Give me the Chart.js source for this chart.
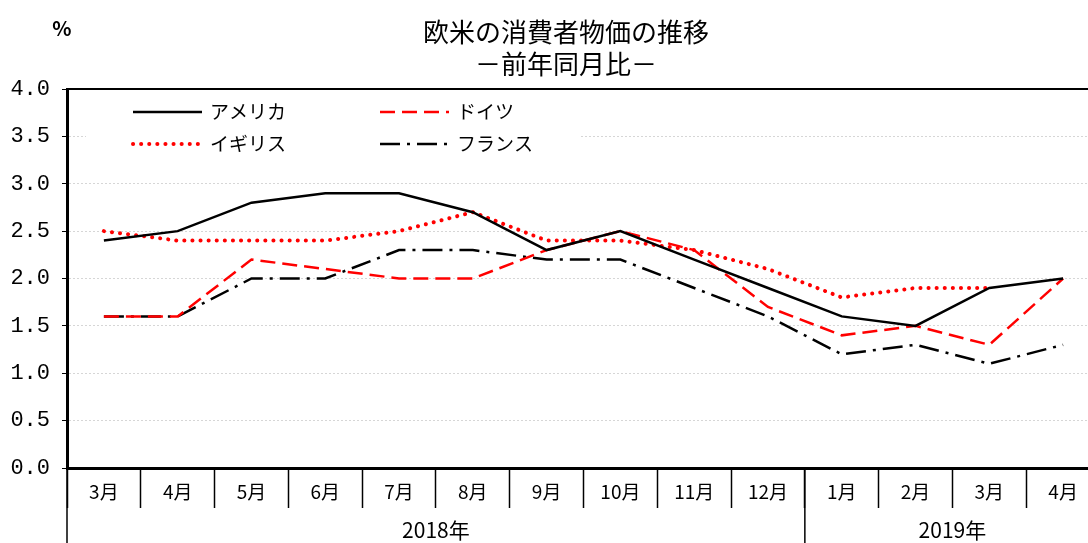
<!DOCTYPE html>
<html>
<head>
<meta charset="utf-8">
<script src="https://cdn.jsdelivr.net/npm/chart.js@4/dist/chart.umd.min.js"></script>
<style>
  body { margin: 0; overflow: hidden; background: #fff; }
</style>
</head>
<body>
<canvas id="grafica" width="1100" height="543"></canvas>
<script>
const meses = ['3月','4月','5月','6月','7月','8月','9月','10月','11月','12月','1月','2月','3月','4月'];
const anios = ['2018年', '2019年'];
const mesesPorAnio = [10, 4];
const ticksY = [0, 0.5, 1, 1.5, 2, 2.5, 3, 3.5, 4];

const america = [2.4, 2.5, 2.8, 2.9, 2.9, 2.7, 2.3, 2.5, 2.2, 1.9, 1.6, 1.5, 1.9, 2.0];
const alemania = [1.6, 1.6, 2.2, 2.1, 2.0, 2.0, 2.3, 2.5, 2.3, 1.7, 1.4, 1.5, 1.3, 2.0];
const inglaterra = [2.5, 2.4, 2.4, 2.4, 2.5, 2.7, 2.4, 2.4, 2.3, 2.1, 1.8, 1.9, 1.9, null];
const francia = [1.6, 1.6, 2.0, 2.0, 2.3, 2.3, 2.2, 2.2, 1.9, 1.6, 1.2, 1.3, 1.1, 1.3];

const fuente = '"Noto Sans CJK JP", "Noto Sans", sans-serif';

// titulo, leyenda y separadores de anio
const extras = {
  id: 'extras',
  beforeDatasetsDraw(chart) {
    const ctx = chart.ctx;
    ctx.save();
    ctx.fillStyle = '#fff';
    ctx.fillRect(86, 96, 494, 62);
    ctx.restore();
  },
  afterDraw(chart) {
    const ctx = chart.ctx;
    const area = chart.chartArea;
    const x = chart.scales.x;
    ctx.save();

    // borde superior
    ctx.strokeStyle = '#000';
    ctx.lineWidth = 2;
    ctx.beginPath();
    ctx.moveTo(area.left, area.top);
    ctx.lineTo(area.right, area.top);
    ctx.stroke();

    // titulo
    ctx.fillStyle = '#000';
    ctx.textAlign = 'center';
    ctx.textBaseline = 'middle';
    ctx.font = '26px ' + fuente;
    ctx.fillText('欧米の消費者物価の推移', 566, 32);
    ctx.fillText('－前年同月比－', 566, 64);
    ctx.font = 'bold 20px ' + fuente;
    ctx.fillText('%', 62, 28);

    // anios
    const paso = x.getPixelForValue(1) - x.getPixelForValue(0);
    let inicio = 0;
    ctx.lineWidth = 1.5;
    ctx.font = '21px ' + fuente;
    anios.forEach((anio, i) => {
      const fin = inicio + mesesPorAnio[i] - 1;
      const x1 = x.getPixelForValue(inicio) - paso / 2;
      const x2 = x.getPixelForValue(fin) + paso / 2;
      ctx.beginPath();
      ctx.moveTo(x1, area.bottom);
      ctx.lineTo(x1, chart.height);
      ctx.stroke();
      ctx.fillText(anio, (x1 + x2) / 2, 530);
      inicio = fin + 1;
    });

    // leyenda
    const posiciones = [[133, 112], [380, 112], [133, 144], [380, 144]];
    ctx.textAlign = 'left';
    ctx.font = '19px ' + fuente;
    chart.data.datasets.forEach((ds, i) => {
      const [lx, ly] = posiciones[i];
      ctx.save();
      ctx.strokeStyle = ds.borderColor;
      ctx.lineWidth = ds.borderWidth;
      ctx.lineCap = ds.borderCapStyle || 'butt';
      ctx.setLineDash(ds.borderDash || []);
      ctx.beginPath();
      ctx.moveTo(lx, ly);
      ctx.lineTo(lx + 69, ly);
      ctx.stroke();
      ctx.restore();
      ctx.fillStyle = '#000';
      ctx.fillText(ds.label, lx + 77, ly);
    });
    ctx.restore();
  }
};

new Chart(document.getElementById('grafica'), {
  type: 'line',
  data: {
    labels: meses,
    datasets: [
      { label: 'アメリカ', data: america, borderColor: '#000', borderWidth: 2.5 },
      { label: 'ドイツ', data: alemania, borderColor: '#ff0000', borderWidth: 2.5, borderDash: [15, 7] },
      { label: 'イギリス', data: inglaterra, borderColor: '#ff0000', borderWidth: 4, borderDash: [0.1, 8], borderCapStyle: 'round' },
      { label: 'フランス', data: francia, borderColor: '#000', borderWidth: 2.5, borderDash: [20, 7, 3, 7] }
    ]
  },
  options: {
    responsive: false,
    animation: false,
    layout: { padding: { top: 89, left: 0, right: 0, bottom: 0 } },
    elements: { point: { radius: 0 }, line: { tension: 0 } },
    plugins: { legend: { display: false }, tooltip: { enabled: false } },
    scales: {
      x: {
        offset: true,
        grid: { offset: true, drawOnChartArea: false, tickLength: 40, tickColor: '#000', tickWidth: 1.5, tickBorderDash: [] },
        border: { display: true, color: '#000', width: 3 },
        ticks: { color: '#000', font: { family: fuente, size: 19 }, padding: -28, maxRotation: 0, autoSkip: false },
        afterFit(scale) { scale.height = 75; }
      },
      y: {
        min: 0,
        max: 4,
        afterBuildTicks(scale) { scale.ticks = ticksY.map(v => ({ value: v })); },
        grid: { color: '#d6d6d6', lineWidth: 1, tickLength: 5, tickColor: '#000', tickWidth: 1, tickBorderDash: [] },
        border: { display: true, color: '#000', width: 3, dash: [2, 2] },
        ticks: {
          color: '#000',
          padding: 12,
          font: { family: '"Liberation Mono", monospace', size: 22 },
          callback: v => v.toFixed(1)
        },
        afterFit(scale) { scale.width = 67; }
      }
    }
  },
  plugins: [extras]
});
</script>
</body>
</html>
